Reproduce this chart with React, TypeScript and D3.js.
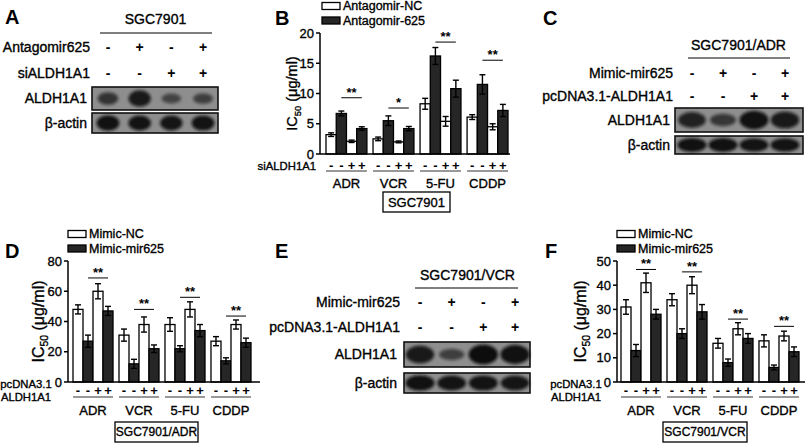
import React from "react";
import * as d3 from "d3";

const FONT = "'Liberation Sans', Arial, Helvetica, sans-serif";

// shared categories
const drugs = ["ADR", "VCR", "5-FU", "CDDP"];
const aldhSigns = ["-", "-", "+", "+"];
const mirSigns = ["-", "+", "-", "+"];

// panel B: SGC7901, antagomir
const bLegend = ["Antagomir-NC", "Antagomir-625"];
const bMeans = [
  [3.2, 6.7, 2.1, 4.2],
  [2.5, 5.5, 2.0, 4.2],
  [8.3, 16.2, 5.4, 10.8],
  [6.1, 11.5, 4.5, 7.2],
];
const bErrs = [
  [0.3, 0.4, 0.2, 0.3],
  [0.3, 0.8, 0.15, 0.35],
  [0.9, 1.4, 0.8, 1.4],
  [0.4, 1.6, 0.5, 1.0],
];
const bSigLevel = [9.3, 7.6, 18.5, 15.5];
const bStars = ["**", "*", "**", "**"];
const bTicks = [0, 5, 10, 15, 20];

// panel D: SGC7901/ADR, mimic
const mimicLegend = ["Mimic-NC", "Mimic-mir625"];
const dMeans = [
  [48, 27, 60, 47],
  [31, 12, 38, 22],
  [38, 22, 48, 34],
  [27, 14, 38, 26],
];
const dErrs = [
  [3, 4, 5, 3],
  [4, 3, 5, 2.5],
  [4.5, 2, 5, 4],
  [3, 2, 3, 3],
];
const dSigLevel = [68.8, 48, 56, 43.6];
const dStars = ["**", "**", "**", "**"];
const dTicks = [0, 20, 40, 60, 80];

// panel F: SGC7901/VCR, mimic
const fMeans = [
  [31, 13, 41, 28],
  [34, 20, 40, 29],
  [16, 8, 22, 18],
  [17, 6, 19, 12.5],
];
const fErrs = [
  [3, 2.5, 4, 2],
  [2.5, 2, 3.5, 3],
  [2, 1.5, 2.5, 2],
  [2.5, 1, 2, 2],
];
const fSigLevel = [46.5, 45.5, 26, 23];
const fStars = ["**", "**", "**", "**"];
const fTicks = [0, 10, 20, 30, 40, 50];

// western blot band strengths (0..1)
const aAldh = [0.55, 0.85, 0.35, 0.4];
const aActin = [0.95, 0.92, 0.9, 0.93];
const cAldh = [0.75, 0.5, 0.95, 0.85];
const cActin = [0.95, 0.95, 0.93, 0.93];
const eAldh = [0.85, 0.4, 1.0, 0.95];
const eActin = [0.95, 0.92, 0.93, 0.9];

const lanes = ["1", "2", "3", "4"];

function BarPanel(p) {
  const y = d3.scaleLinear().domain([0, p.ticks[p.ticks.length - 1]]).range([p.yBottom, p.yTop]);
  const x0 = d3.scaleBand().domain(drugs).range(p.groupRange).paddingInner(0.13);
  const x1 = d3.scaleBand().domain(lanes).range([0, x0.bandwidth()]);
  const bw = x1.bandwidth();
  const cap = 3;
  return (
    <g fontFamily={FONT}>
      {/* legend */}
      {p.legend.map((l, i) => (
        <g key={l} transform={`translate(${p.legendX},${p.legendY + i * 14.5})`}>
          <rect x={0} y={-3.5} width={18} height={7} fill={i ? "#262626" : "#fff"} stroke="#000" strokeWidth={1.3} />
          <text className="t" x={21} y={0} dy="0.35em" fontSize={12.5}>{l}</text>
        </g>
      ))}
      {/* bars */}
      {drugs.map((dname, gi) => (
        <g key={dname} transform={`translate(${x0(dname)},0)`}>
          {p.means[gi].map((m, bi) => {
            const bx = x1(lanes[bi]);
            const cx = bx + bw / 2;
            const e = p.errs[gi][bi];
            return (
              <g key={bi}>
                <rect x={bx} y={y(m)} width={bw} height={y(0) - y(m)} fill={bi % 2 ? "#262626" : "#fff"} stroke="#000" strokeWidth={1.3} />
                <line x1={cx} x2={cx} y1={y(m - e)} y2={y(m + e)} stroke="#000" strokeWidth={1.4} />
                <line x1={cx - cap} x2={cx + cap} y1={y(m + e)} y2={y(m + e)} stroke="#000" strokeWidth={1.4} />
                <line x1={cx - cap} x2={cx + cap} y1={y(m - e)} y2={y(m - e)} stroke="#000" strokeWidth={1.4} />
              </g>
            );
          })}
          {/* significance */}
          <line
            x1={x1("2") + bw / 2}
            x2={x1("4") + bw / 2}
            y1={y(p.sig[gi])}
            y2={y(p.sig[gi])}
            stroke="#000"
            strokeWidth={1}
          />
          <text
            x={(x1("2") + x1("4") + bw) / 2}
            y={y(p.sig[gi]) - 1}
            textAnchor="middle"
            fontSize={13}
            fontWeight="bold"
          >
            {p.stars[gi]}
          </text>
          {/* sign row */}
          {aldhSigns.map((s, si) => (
            <text key={si} x={x1(lanes[si]) + bw / 2} y={p.signY} dy="0.35em" textAnchor="middle" fontSize={13} fontWeight="bold">
              {s}
            </text>
          ))}
          <line x1={0} x2={x0.bandwidth()} y1={p.underY} y2={p.underY} stroke="#333" strokeWidth={1} />
          <text className="t" x={x0.bandwidth() / 2} y={p.groupY} dy="0.35em" textAnchor="middle" fontSize={13}>
            {dname}
          </text>
        </g>
      ))}
      {/* axes */}
      <line x1={p.axisX} x2={p.axisX} y1={p.yTop} y2={p.yBottom} stroke="#000" strokeWidth={1.5} />
      <line x1={p.axisX} x2={p.xEnd} y1={p.yBottom} y2={p.yBottom} stroke="#000" strokeWidth={1.5} />
      {p.ticks.map((t) => (
        <g key={t}>
          <line x1={p.axisX - 4} x2={p.axisX} y1={y(t)} y2={y(t)} stroke="#000" strokeWidth={1.5} />
          <text className="t" x={p.axisX - 6} y={y(t)} dy="0.35em" textAnchor="end" fontSize={13}>
            {t}
          </text>
        </g>
      ))}
      <text
        className="t"
        transform={`translate(${p.titleX},${(p.yTop + p.yBottom) / 2}) rotate(-90)`}
        textAnchor="middle"
        fontSize={p.titleSize}
        dy="0.35em"
      >
        IC
        <tspan fontSize={p.titleSize * 0.65} dy={4}>
          50
        </tspan>
        <tspan dy={-4}> (μg/ml)</tspan>
      </text>
      {/* row labels */}
      {p.rowLabels.map((r, i) => (
        <text className="t" key={r} x={p.rowLabelX} y={p.rowLabelY[i]} dy="0.35em" textAnchor={p.rowAnchor} fontSize={11.3}>
          {r}
        </text>
      ))}
      {/* cell line box */}
      <rect x={p.box[0]} y={p.box[1]} width={p.box[2]} height={p.box[3]} fill="#fff" stroke="#000" strokeWidth={1.3} />
      <text className="t" x={p.box[0] + p.box[2] / 2} y={p.box[1] + p.box[3] / 2} dy="0.35em" textAnchor="middle" fontSize={p.boxFont}>
        {p.boxText}
      </text>
    </g>
  );
}

function BlotPanel(p) {
  const lx = d3.scalePoint().domain(lanes).range(p.laneRange);
  return (
    <g fontFamily={FONT}>
      <text className="t" x={lx("1") + (lx("4") - lx("1")) / 2} y={p.titleY} dy="0.35em" textAnchor="middle" fontSize={14}>
        {p.title}
      </text>
      <line x1={p.line[0]} x2={p.line[1]} y1={p.line[2]} y2={p.line[2]} stroke="#555" strokeWidth={1.3} />
      {p.rows.map((r) => (
        <g key={r.label}>
          <text className="t" x={p.labelX} y={r.y} dy="0.35em" textAnchor="end" fontSize={14}>
            {r.label}
          </text>
          {r.signs.map((s, si) => (
            <text key={si} x={lx(lanes[si])} y={r.y} dy="0.35em" textAnchor="middle" fontSize={14} fontWeight="bold">
              {s}
            </text>
          ))}
        </g>
      ))}
      {p.blots.map((b) => (
        <g key={b.label}>
          <text className="t" x={p.labelX - 3} y={b.y + b.h / 2} dy="0.35em" textAnchor="end" fontSize={14}>
            {b.label}
          </text>
          <rect x={p.box[0]} y={b.y} width={p.box[1] - p.box[0]} height={b.h} fill="#8e8e8e" stroke="#111" strokeWidth={1.6} />
          {b.bands.map((v, i) => (
            <ellipse
              key={i}
              cx={lx(lanes[i])}
              cy={b.y + b.h / 2}
              rx={(p.bandW / 2) * (0.8 + 0.25 * v)}
              ry={b.h * (0.12 + 0.28 * v)}
              fill="#111"
              opacity={0.35 + 0.65 * v}
              filter="url(#blur)"
            />
          ))}
        </g>
      ))}
    </g>
  );
}

const Letter = ({ x, y, t }) => (
  <text x={x} y={y} fontFamily={FONT} fontWeight="bold" fontSize={20}>
    {t}
  </text>
);

export default function App() {
  return (
    <svg width={810} height={446} style={{ position: "absolute", left: 0, top: 0, background: "#fff" }}>
      <defs>
        <style>{`.t { stroke: #000; stroke-width: 0.35px; }`}</style>
        <filter id="blur" x="-50%" y="-50%" width="200%" height="200%">
          <feGaussianBlur stdDeviation={1.8} />
        </filter>
      </defs>
      <Letter x={5} y={24} t="A" />
      <Letter x={275} y={25} t="B" />
      <Letter x={543} y={25} t="C" />
      <Letter x={5} y={258} t="D" />
      <Letter x={275} y={258} t="E" />
      <Letter x={545} y={258} t="F" />

      <BlotPanel
        title="SGC7901"
        titleY={19}
        line={[100, 212, 33]}
        laneRange={[108, 203]}
        labelX={90}
        rows={[
          { label: "Antagomir625", y: 47, signs: mirSigns },
          { label: "siALDH1A1", y: 73, signs: aldhSigns },
        ]}
        box={[92, 218]}
        bandW={22}
        blots={[
          { label: "ALDH1A1", y: 87, h: 23, bands: aAldh },
          { label: "β-actin", y: 113, h: 20, bands: aActin },
        ]}
      />

      <BlotPanel
        title="SGC7901/ADR"
        titleY={45}
        line={[688, 790, 58]}
        laneRange={[692, 785]}
        labelX={673}
        rows={[
          { label: "Mimic-mir625", y: 73, signs: mirSigns },
          { label: "pcDNA3.1-ALDH1A1", y: 96, signs: aldhSigns },
        ]}
        box={[675, 803]}
        bandW={28}
        blots={[
          { label: "ALDH1A1", y: 108, h: 24, bands: cAldh },
          { label: "β-actin", y: 136, h: 18, bands: cActin },
        ]}
      />

      <BlotPanel
        title="SGC7901/VCR"
        titleY={275}
        line={[415, 518, 288]}
        laneRange={[420, 515]}
        labelX={400}
        rows={[
          { label: "Mimic-mir625", y: 302, signs: mirSigns },
          { label: "pcDNA3.1-ALDH1A1", y: 327, signs: aldhSigns },
        ]}
        box={[404, 530]}
        bandW={28}
        blots={[
          { label: "ALDH1A1", y: 342, h: 25, bands: eAldh },
          { label: "β-actin", y: 373, h: 20, bands: eActin },
        ]}
      />

      <BarPanel
        legend={bLegend}
        legendX={322}
        legendY={6}
        means={bMeans}
        errs={bErrs}
        sig={bSigLevel}
        stars={bStars}
        ticks={bTicks}
        axisX={320}
        yTop={33}
        yBottom={154}
        xEnd={510}
        groupRange={[326, 508]}
        titleX={292}
        titleSize={14.5}
        signY={165}
        underY={171}
        groupY={183}
        rowLabels={["siALDH1A1"]}
        rowLabelX={316}
        rowLabelY={[166]}
        rowAnchor="end"
        box={[383, 192, 67, 20]}
        boxFont={13}
        boxText="SGC7901"
      />

      <BarPanel
        legend={mimicLegend}
        legendX={68}
        legendY={234}
        means={dMeans}
        errs={dErrs}
        sig={dSigLevel}
        stars={dStars}
        ticks={dTicks}
        axisX={68}
        yTop={261}
        yBottom={382}
        xEnd={260}
        groupRange={[73, 251]}
        titleX={38}
        titleSize={16}
        signY={390}
        underY={397}
        groupY={410}
        rowLabels={["pcDNA3.1", "ALDH1A1"]}
        rowLabelX={26}
        rowLabelY={[384, 397]}
        rowAnchor="middle"
        box={[115, 422, 83, 20]}
        boxFont={12}
        boxText="SGC7901/ADR"
      />

      <BarPanel
        legend={mimicLegend}
        legendX={617}
        legendY={234}
        means={fMeans}
        errs={fErrs}
        sig={fSigLevel}
        stars={fStars}
        ticks={fTicks}
        axisX={617}
        yTop={261}
        yBottom={382}
        xEnd={805}
        groupRange={[621, 799]}
        titleX={580}
        titleSize={16}
        signY={390}
        underY={397}
        groupY={410}
        rowLabels={["pcDNA3.1", "ALDH1A1"]}
        rowLabelX={576}
        rowLabelY={[384, 397]}
        rowAnchor="middle"
        box={[663, 422, 84, 20]}
        boxFont={12}
        boxText="SGC7901/VCR"
      />
    </svg>
  );
}
